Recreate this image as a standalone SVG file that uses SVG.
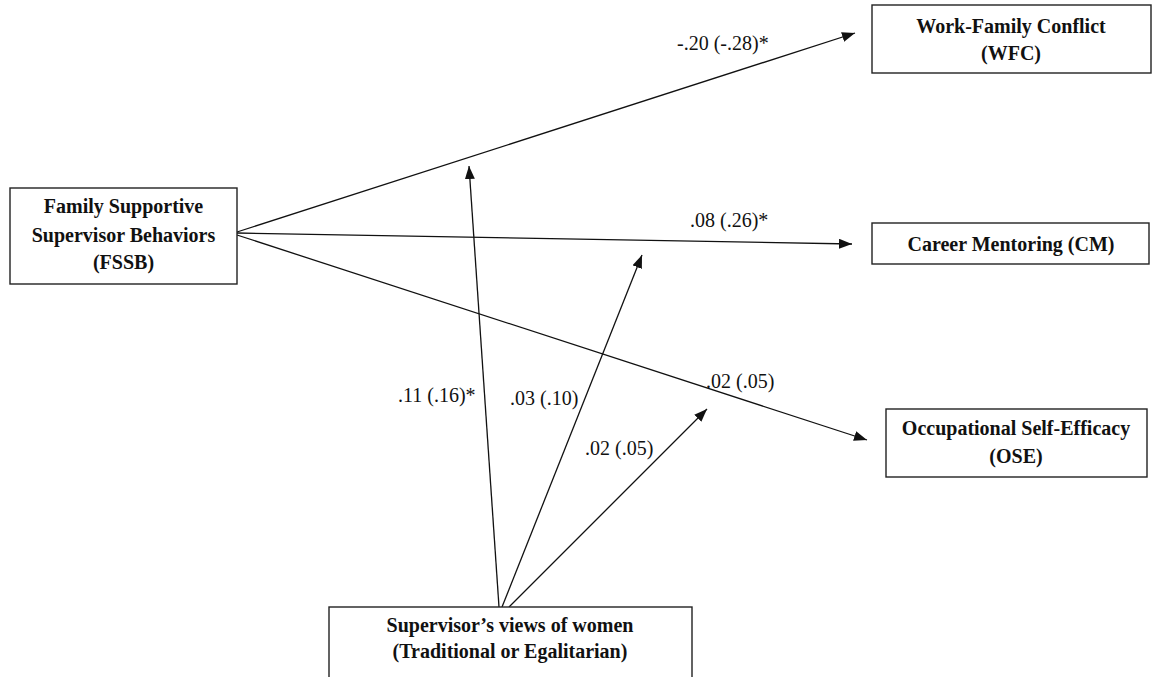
<svg xmlns="http://www.w3.org/2000/svg" width="1152" height="677" viewBox="0 0 1152 677">
<style>
.box{fill:#fff;stroke:#222;stroke-width:1.4}
.t{font-family:"Liberation Serif","Times New Roman",serif;font-weight:bold;font-size:20px;fill:#111;text-anchor:middle}
.l{font-family:"Liberation Serif","Times New Roman",serif;font-size:20px;fill:#111}
.c{stroke:#111;stroke-width:1.3;fill:none;marker-end:url(#ah)}
</style>
<defs>
<marker id="ah" markerUnits="userSpaceOnUse" markerWidth="14" markerHeight="10" refX="13" refY="5" orient="auto">
<path d="M0,0 L13,5 L0,10 z" fill="#111"/>
</marker>
</defs>
<rect width="1152" height="677" fill="#fff"/>
<g id="connectors">
<line class="c" x1="237" y1="232" x2="855" y2="33"/>
<line class="c" x1="237" y1="233" x2="852" y2="244"/>
<line class="c" x1="237" y1="235" x2="867" y2="440"/>
<line class="c" x1="499" y1="607" x2="469" y2="166"/>
<line class="c" x1="502" y1="607" x2="642" y2="255"/>
<line class="c" x1="509" y1="607" x2="707" y2="409"/>
</g>
<g id="labels">
<text class="l" x="677" y="50">-.20 (-.28)*</text>
<text class="l" x="690" y="227">.08 (.26)*</text>
<text class="l" x="706" y="388">.02 (.05)</text>
<text class="l" x="398" y="402">.11 (.16)*</text>
<text class="l" x="510" y="405">.03 (.10)</text>
<text class="l" x="585" y="455">.02 (.05)</text>
</g>
<g id="node-fssb">
<rect class="box" x="10" y="188" width="227" height="96"/>
<text class="t" x="123.5" y="213">Family Supportive</text>
<text class="t" x="123.5" y="242">Supervisor Behaviors</text>
<text class="t" x="123.5" y="269">(FSSB)</text>
</g>
<g id="node-wfc">
<rect class="box" x="872" y="5" width="279" height="68"/>
<text class="t" x="1011" y="33">Work-Family Conflict</text>
<text class="t" x="1011" y="60">(WFC)</text>
</g>
<g id="node-cm">
<rect class="box" x="872" y="223" width="277" height="41"/>
<text class="t" x="1011" y="251">Career Mentoring (CM)</text>
</g>
<g id="node-ose">
<rect class="box" x="886" y="409" width="261" height="68"/>
<text class="t" x="1016" y="435">Occupational Self-Efficacy</text>
<text class="t" x="1016" y="463">(OSE)</text>
</g>
<g id="node-supervisor">
<rect class="box" x="329" y="607" width="363" height="75"/>
<text class="t" x="510" y="632">Supervisor’s views of women</text>
<text class="t" x="510" y="658">(Traditional or Egalitarian)</text>
</g>
</svg>
